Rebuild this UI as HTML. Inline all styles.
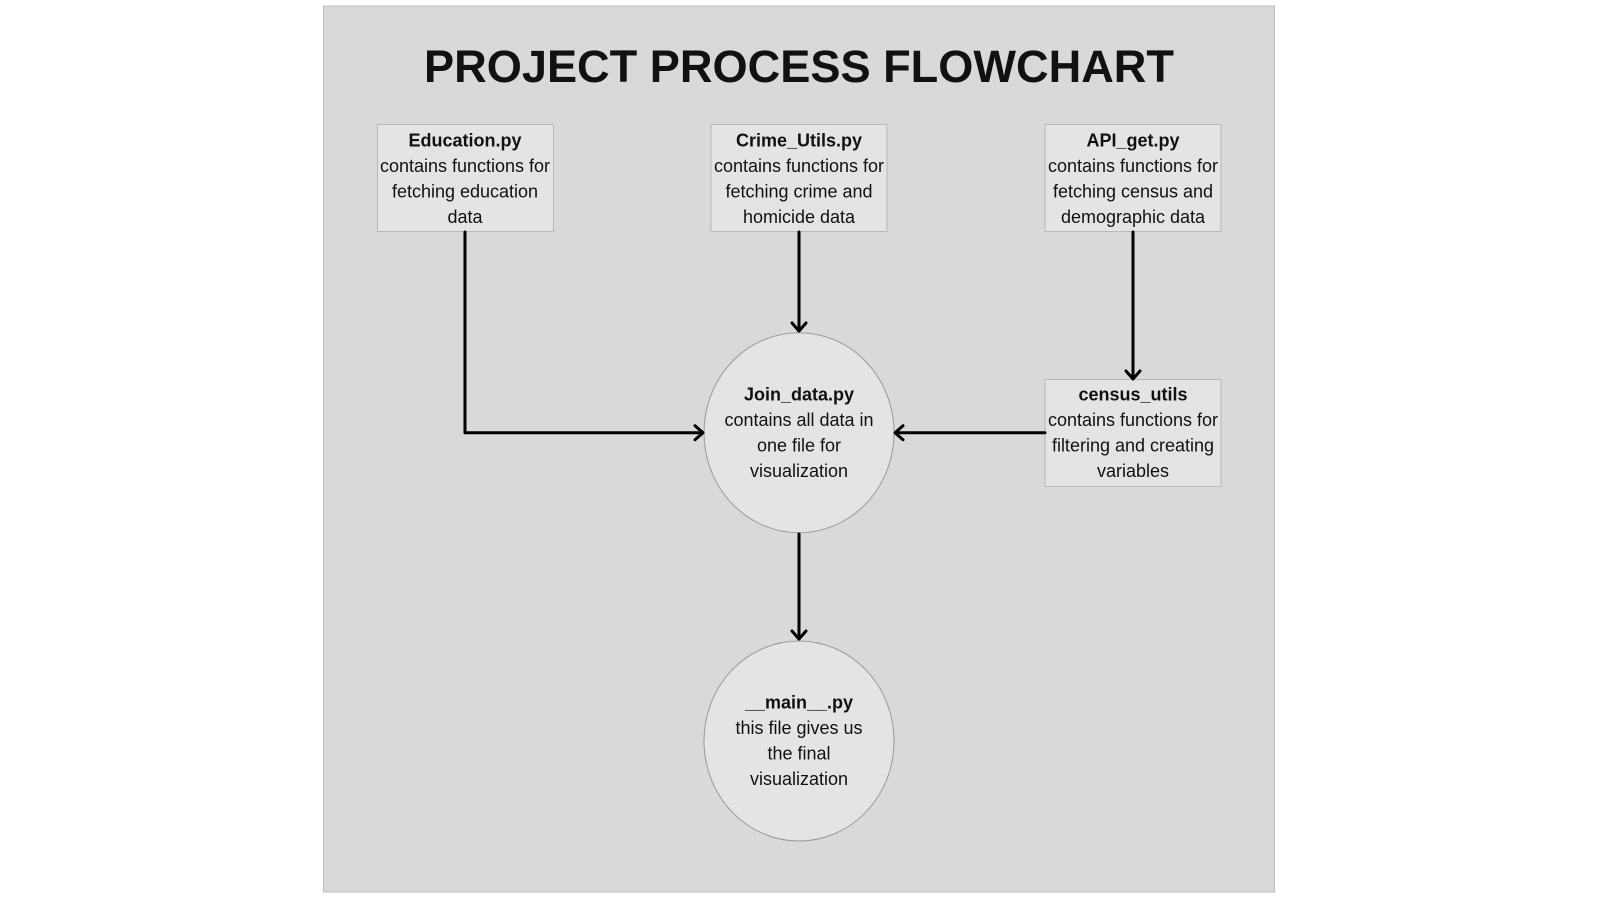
<!DOCTYPE html>
<html><head><style>
html,body{margin:0;padding:0;background:#fff;}
svg{display:block;}
text{font-family:"Liberation Sans",Arial,sans-serif;fill:#111;}
</style></head><body>
<svg width="1600" height="900" viewBox="0 0 1600 900">
<rect x="323.5" y="6" width="951" height="886" fill="#d9d9d9" stroke="#bdbdbd" stroke-width="1"/>
<text x="799" y="82" font-size="45" font-weight="bold" text-anchor="middle" textLength="750" lengthAdjust="spacingAndGlyphs" fill="#000">PROJECT PROCESS FLOWCHART</text>

<g fill="#e6e4e3" stroke="#b8b8b8" stroke-width="1">
<rect x="377.5" y="124.5" width="176" height="107"/>
<rect x="711" y="124.5" width="176" height="107"/>
<rect x="1045" y="124.5" width="176" height="107"/>
<rect x="1045" y="379.5" width="176" height="107"/>
<ellipse cx="799" cy="432.7" rx="95" ry="100" stroke="#999"/>
<ellipse cx="799" cy="741" rx="95" ry="100" stroke="#999"/>
</g>

<g stroke="#000" stroke-width="3" fill="none" stroke-linecap="round" stroke-linejoin="round">
<path d="M465 232 V432.7 H702"/><path d="M695 425.7 L703 432.7 L695 439.7"/>
<path d="M799 232 V330"/><path d="M792 323 L799 331 L806 323"/>
<path d="M1133 232 V378"/><path d="M1126 371 L1133 379 L1140 371"/>
<path d="M1045 432.7 H896"/><path d="M903 425.7 L895 432.7 L903 439.7"/>
<path d="M799 534 V638"/><path d="M792 631 L799 639 L806 631"/>
</g>

<g font-size="18" text-anchor="middle">
<text x="465" y="146.5" font-weight="bold">Education.py</text>
<text x="465" y="172">contains functions for</text>
<text x="465" y="197.5">fetching education</text>
<text x="465" y="223">data</text>

<text x="799" y="146.5" font-weight="bold">Crime_Utils.py</text>
<text x="799" y="172">contains functions for</text>
<text x="799" y="197.5">fetching crime and</text>
<text x="799" y="223">homicide data</text>

<text x="1133" y="146.5" font-weight="bold">API_get.py</text>
<text x="1133" y="172">contains functions for</text>
<text x="1133" y="197.5">fetching census and</text>
<text x="1133" y="223">demographic data</text>

<text x="1133" y="400.5" font-weight="bold">census_utils</text>
<text x="1133" y="426">contains functions for</text>
<text x="1133" y="451.5">filtering and creating</text>
<text x="1133" y="477">variables</text>

<text x="799" y="400.5" font-weight="bold">Join_data.py</text>
<text x="799" y="426">contains all data in</text>
<text x="799" y="451.5">one file for</text>
<text x="799" y="477">visualization</text>

<text x="799" y="708.5" font-weight="bold">__main__.py</text>
<text x="799" y="734">this file gives us</text>
<text x="799" y="759.5">the final</text>
<text x="799" y="785">visualization</text>
</g>
</svg>
</body></html>
